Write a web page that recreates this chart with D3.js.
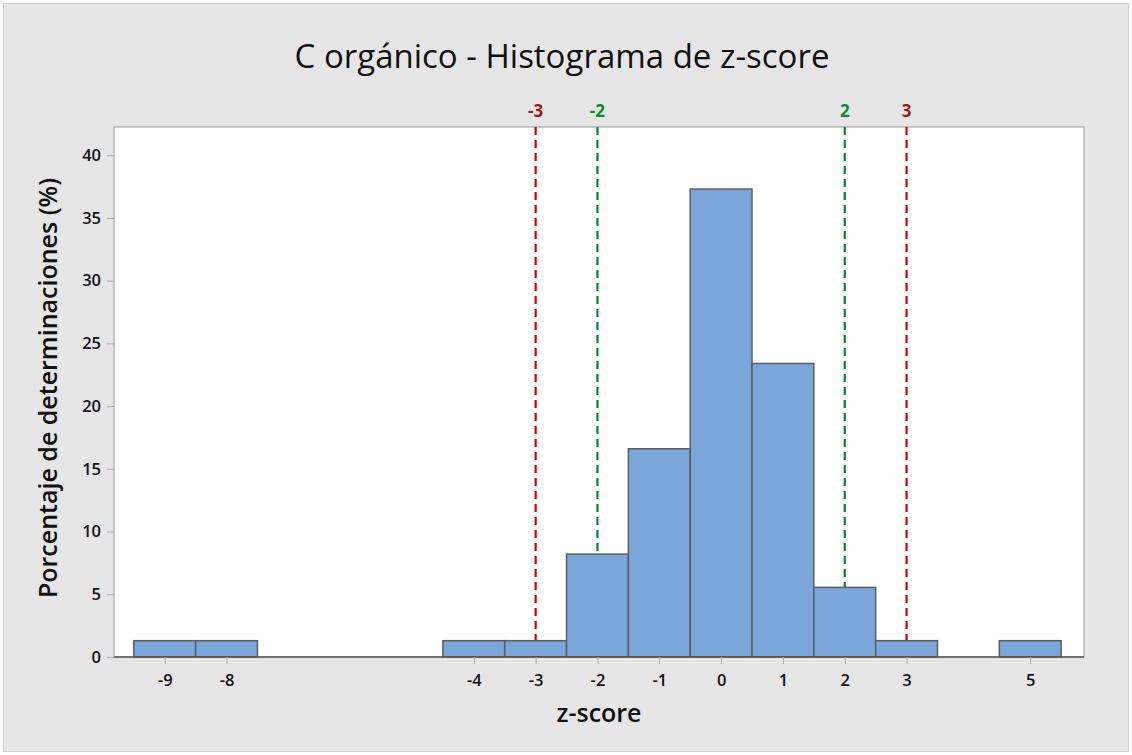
<!DOCTYPE html>
<html lang="es">
<head>
  <meta charset="UTF-8">
  <title>C orgánico - Histograma de z-score</title>
  <script src="https://d3js.org/d3.v7.min.js"></script>
  <style>
    body { margin: 0; background: #fff; }
    svg text { font-family: "Open Sans", "Noto Sans", sans-serif; fill: #111; }
    .tick-label { font-size: 16.5px; font-weight: 600; }
    .axis-title { font-size: 25px; font-weight: 600; }
  </style>
</head>
<body>
<div id="chart"></div>
<script>
  // data: z-score bins (centre) and percent of determinations
  const binCenters = [-9, -8, -4, -3, -2, -1, 0, 1, 2, 3, 5];
  const percents   = [1.3, 1.3, 1.3, 1.3, 8.2, 16.6, 37.3, 23.4, 5.55, 1.3, 1.3];
  const xTicks = [-9, -8, -4, -3, -2, -1, 0, 1, 2, 3, 5];
  const yTicks = [0, 5, 10, 15, 20, 25, 30, 35, 40];
  const refLines = [-3, -2, 2, 3];
  const refColors = ["#d40000", "#008a2e", "#008a2e", "#d40000"];
  const refLabelColors = ["#a01818", "#0b8a35", "#0b8a35", "#a01818"];

  const W = 1132, H = 755;
  const plot = { left: 114, right: 1084, top: 127, bottom: 657 };

  const svg = d3.select("#chart").append("svg")
    .attr("width", W).attr("height", H);

  // background
  svg.append("rect").attr("x", 0).attr("y", 0).attr("width", W).attr("height", H).attr("fill", "#fff");
  svg.append("rect").attr("x", 3.5).attr("y", 3.5).attr("width", W - 7).attr("height", H - 7)
     .attr("fill", "#e6e6e6").attr("stroke", "#cfcfcf");

  const x = d3.scaleLinear().domain([-9.82, 5.87]).range([plot.left, plot.right]);
  const y = d3.scaleLinear().domain([0, 42.25]).range([plot.bottom, plot.top]);

  // plot area
  svg.append("rect")
     .attr("x", plot.left).attr("y", plot.top)
     .attr("width", plot.right - plot.left).attr("height", plot.bottom - plot.top)
     .attr("fill", "#fff").attr("stroke", "#a8a8a8").attr("stroke-width", 1.2);

  // reference lines (drawn under bars)
  svg.selectAll(".ref")
     .data(refLines)
     .enter().append("line")
     .attr("x1", d => x(d)).attr("x2", d => x(d))
     .attr("y1", plot.top).attr("y2", plot.bottom)
     .attr("stroke", (d, i) => refColors[i])
     .attr("stroke-width", 2.2)
     .attr("stroke-dasharray", "8,5");

  svg.selectAll(".ref-label")
     .data(refLines)
     .enter().append("text")
     .attr("x", d => x(d)).attr("y", plot.top - 10)
     .attr("text-anchor", "middle")
     .style("font-size", "17px").style("font-weight", "700")
     .style("fill", (d, i) => refLabelColors[i])
     .text(d => d < 0 ? "-" + Math.abs(d) : d);

  // bars
  svg.selectAll(".bar")
     .data(binCenters)
     .enter().append("rect")
     .attr("x", d => x(d - 0.5))
     .attr("width", d => x(d + 0.5) - x(d - 0.5))
     .attr("y", (d, i) => y(percents[i]))
     .attr("height", (d, i) => y(0) - y(percents[i]))
     .attr("fill", "#7ba6d9")
     .attr("stroke", "#5a5d63")
     .attr("stroke-width", 1.5);

  // x axis
  const xAxis = svg.append("g")
     .attr("transform", `translate(0,${plot.bottom})`)
     .call(d3.axisBottom(x).tickValues(xTicks).tickSize(7).tickPadding(10)
       .tickFormat(d => d < 0 ? "-" + Math.abs(d) : d));
  xAxis.select(".domain").attr("stroke", "#555").attr("stroke-width", 1.5)
     .attr("d", `M${plot.left},0H${plot.right}`);
  xAxis.selectAll(".tick line").attr("stroke", "#a8a8a8");
  xAxis.selectAll(".tick text").attr("class", "tick-label").attr("fill", "#111");

  // y axis
  const yAxis = svg.append("g")
     .attr("transform", `translate(${plot.left},0)`)
     .call(d3.axisLeft(y).tickValues(yTicks).tickSize(7).tickPadding(6));
  yAxis.select(".domain").remove();
  yAxis.selectAll(".tick line").attr("stroke", "#a8a8a8");
  yAxis.selectAll(".tick text").attr("class", "tick-label").attr("fill", "#111");

  // titles
  svg.append("text")
     .attr("x", 562).attr("y", 68)
     .attr("text-anchor", "middle")
     .style("font-size", "33px")
     .text("C orgánico - Histograma de z-score");

  svg.append("text")
     .attr("x", 599).attr("y", 722)
     .attr("text-anchor", "middle")
     .attr("class", "axis-title")
     .text("z-score");

  svg.append("text")
     .attr("transform", "translate(57,388) rotate(-90)")
     .attr("text-anchor", "middle")
     .attr("class", "axis-title")
     .text("Porcentaje de determinaciones (%)");
</script>
</body>
</html>
